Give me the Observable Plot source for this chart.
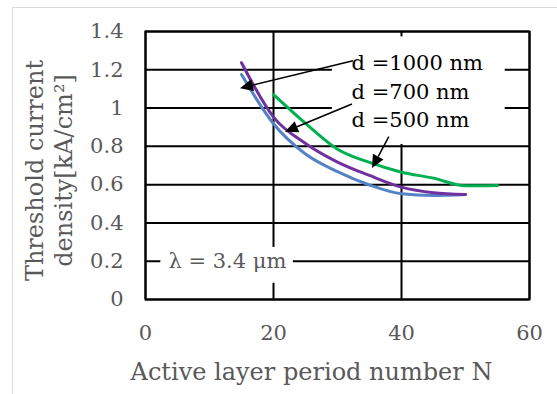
<!DOCTYPE html>
<html><head><meta charset="utf-8">
<script src="https://cdn.jsdelivr.net/npm/d3@7"></script>
<script src="https://cdn.jsdelivr.net/npm/@observablehq/plot@0.6"></script>
<style>
body{margin:0;background:#fff;}
#wrap{position:relative;width:557px;height:394px;overflow:hidden;}
#border{position:absolute;left:12px;top:7px;width:700px;height:500px;border:1.5px solid #d9d9d9;}
#chart{position:absolute;left:0;top:0;}
</style></head><body>
<div id="wrap"><div id="border"></div><div id="chart"></div></div>
<script>
// Series
const N_1000 = [15, 20, 25, 30, 35, 40, 45, 50];
const J_1000 = [1.175, 0.918, 0.76, 0.668, 0.598, 0.552, 0.543, 0.549];
const N_700 = [15, 20, 25, 30, 35, 40, 45, 50];
const J_700 = [1.237, 0.953, 0.815, 0.718, 0.648, 0.587, 0.558, 0.549];
const N_500 = [20, 25, 30, 35, 40, 45, 50, 55];
const J_500 = [1.07, 0.92, 0.785, 0.716, 0.665, 0.634, 0.594, 0.596];
const seriesNames = ["d =1000 nm", "d =700 nm", "d =500 nm"];
const seriesColors = ["#5383c6", "#7030a0", "#00b050"];

// Axes
const xTicks = [0, 20, 40, 60];
const xTickLabels = ["0", "20", "40", "60"];
const yTicks = [0, 0.2, 0.4, 0.6, 0.8, 1, 1.2, 1.4];
const yTickLabels = ["0", "0.2", "0.4", "0.6", "0.8", "1", "1.2", "1.4"];
const xTitle = "Active layer period number N";
const yTitle = "Threshold current\ndensity[kA/cm²]";

// Annotations (data coordinates)
const labelX = [32.2, 32.2, 32.2];
const labelY = [1.233, 1.081, 0.935];
const labelBox = {x1: 29.2, x2: 56.2, y1: 0.81, y2: 1.372};
const noteText = "λ = 3.4 μm";
const noteX = 12.8, noteY = 0.199;
const noteBox = {x1: 2.4, x2: 23.1, y1: 0.085, y2: 0.272};
const arrowX1 = [32.5, 32.34, 38.1];
const arrowY1 = [1.245, 1.019, 0.848];
const arrowX2 = [14.84, 21.875, 35.47];
const arrowY2 = [1.101, 0.874, 0.684];

const rows = [];
[[N_1000, J_1000], [N_700, J_700], [N_500, J_500]].forEach(([ns, js], k) => {
  ns.forEach((n, i) => rows.push({series: seriesNames[k], N: n, J: js[i]}));
});
const labels = seriesNames.map((s, i) => ({s, x: labelX[i], y: labelY[i]}));

const FONT = "DejaVu Serif";
const plot = Plot.plot({
  width: 557, height: 394,
  marginLeft: 145, marginRight: 28, marginTop: 31, marginBottom: 95,
  style: {fontFamily: FONT, fontSize: "21px", color: "#595959", background: "transparent"},
  x: {domain: [0, 60], ticks: xTicks, tickFormat: (d) => xTickLabels[xTicks.indexOf(d)], tickSize: 0, tickPadding: 26, label: null},
  y: {domain: [0, 1.4], ticks: yTicks, tickFormat: (d) => yTickLabels[yTicks.indexOf(d)], tickSize: 0, tickPadding: 22, label: null},
  color: {domain: seriesNames, range: seriesColors},
  marks: [
    Plot.ruleY(yTicks, {stroke: "black", strokeWidth: 2}),
    Plot.ruleX(xTicks, {stroke: "black", strokeWidth: 2}),
    Plot.rect([labelBox], {x1: "x1", x2: "x2", y1: "y1", y2: "y2", fill: "white"}),
    Plot.rect([noteBox], {x1: "x1", x2: "x2", y1: "y1", y2: "y2", fill: "white"}),
    Plot.frame({stroke: "black", strokeWidth: 2}),
    Plot.line(rows, {x: "N", y: "J", z: "series", stroke: "series", strokeWidth: 3, curve: "monotone-x"}),
    Plot.text(labels, {x: "x", y: "y", text: "s", textAnchor: "start", fill: "black", fontSize: 21}),
    Plot.text([noteText], {x: noteX, y: noteY, text: d => d, fill: "#595959", fontSize: 21}),
    Plot.text([yTitle], {frameAnchor: "left", textAnchor: "middle", lineAnchor: "middle", rotate: -90, dx: -97, dy: 5, text: d => d, lineHeight: 1.2, fill: "#595959", fontSize: 24}),
    Plot.text([xTitle], {frameAnchor: "bottom", textAnchor: "middle", lineAnchor: "middle", dx: -26, dy: 73, text: d => d, fill: "#595959", fontSize: 24})
  ]
});
document.getElementById("chart").append(plot);

// Arrows with filled heads, positioned through the plot's scales
const sx = plot.scale("x"), sy = plot.scale("y");
const svg = d3.select(plot);
const g = svg.append("g");
arrowX1.forEach((_, i) => {
  const x1 = sx.apply(arrowX1[i]), y1 = sy.apply(arrowY1[i]);
  const x2 = sx.apply(arrowX2[i]), y2 = sy.apply(arrowY2[i]);
  const dx = x2 - x1, dy = y2 - y1, L = Math.hypot(dx, dy);
  const ux = dx / L, uy = dy / L, hl = 13, hw = 6;
  const bx = x2 - ux * hl, by = y2 - uy * hl;
  g.append("line").attr("x1", x1).attr("y1", y1).attr("x2", bx).attr("y2", by)
    .attr("stroke", "black").attr("stroke-width", 1.5);
  g.append("polygon").attr("points", [
    [x2, y2], [bx - uy * hw, by + ux * hw], [bx + uy * hw, by - ux * hw]
  ].map(p => p.join(",")).join(" ")).attr("fill", "black");
});
</script></body></html>
